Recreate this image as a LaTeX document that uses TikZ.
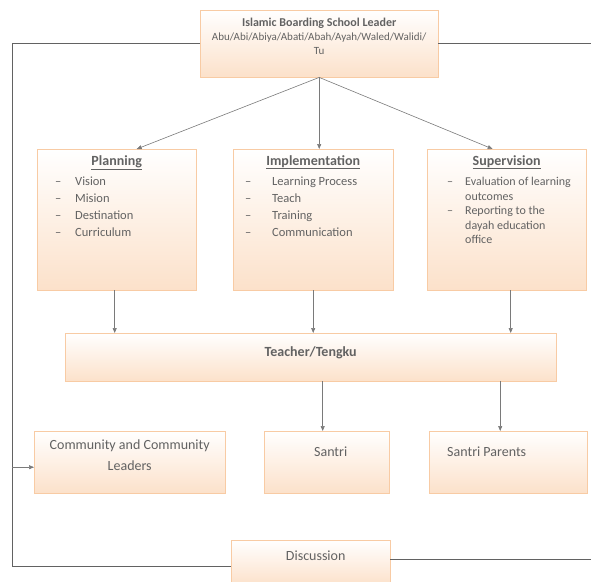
\documentclass[tikz,border=0pt]{standalone}
\usepackage{fontspec}
\setmainfont{Carlito}
\usetikzlibrary{positioning,arrows.meta,shadows}
\definecolor{boxline}{HTML}{F8CBA4}
\definecolor{boxfill}{HTML}{FCE1CA}
\definecolor{txtgray}{HTML}{626262}
\definecolor{linegray}{HTML}{7A7A7A}
\tikzset{
  stage/.style={draw=boxline, top color=white, bottom color=boxfill, anchor=north west,
    inner sep=0pt, drop shadow={shadow xshift=1.2pt, shadow yshift=-1.2pt, opacity=.18}},
  head/.style={inner sep=0pt, text=txtgray, font=\fontsize{14}{16}\selectfont\bfseries},
  items/.style={inner sep=0pt, text=txtgray, align=left, font=\fontsize{12.5}{17}\selectfont},
  label/.style={inner sep=0pt, text=txtgray, align=center, font=\fontsize{14}{21}\selectfont},
  flow/.style={draw=linegray, line width=0.6pt, -{Triangle[length=5pt,width=4pt]}},
  loop/.style={draw=txtgray, line width=0.5pt}
}
\newcommand{\dash}{\makebox[20pt][l]{--}}
\begin{document}
\begin{tikzpicture}[x=1pt, y=-1pt]
    \useasboundingbox (0,0) rectangle (591,581);
        \node[stage, minimum width=238pt, minimum height=67pt] (lead) at (200,10) {};
        \node[head, font=\fontsize{12}{14}\selectfont\bfseries, below=8pt of lead.north] (leadtitle) {Islamic Boarding School Leader};
        \node[items, align=center, font=\fontsize{11}{13.5}\selectfont, below=4pt of leadtitle] (leadnames) {Abu/Abi/Abiya/Abati/Abah/Ayah/Waled/Walidi/\\Tu};
        \node[stage, minimum width=159pt, minimum height=141pt] (plan) at (37,149) {};
        \node[head, below=6pt of plan.north] (plantitle) {\underline{Planning}};
        \node[items, below right=28pt and 18pt of plan.north west] (planlist) {\dash Vision\\\dash Mision\\\dash Destination\\\dash Curriculum};
        \node[stage, minimum width=160pt, minimum height=141pt] (impl) at (233,149) {};
        \node[head, below=6pt of impl.north] (impltitle) {\underline{Implementation}};
        \node[items, below right=28pt and 12pt of impl.north west] (impllist) {\makebox[27pt][l]{--}Learning Process\\\makebox[27pt][l]{--}Teach\\\makebox[27pt][l]{--}Training\\\makebox[27pt][l]{--}Communication};
        \node[stage, minimum width=159pt, minimum height=141pt] (sup) at (427,149) {};
        \node[head, below=6pt of sup.north] (suptitle) {\underline{Supervision}};
        \node[items, font=\fontsize{12}{14.5}\selectfont, below right=28pt and 20pt of sup.north west] (suplist) {\makebox[18pt][l]{--}Evaluation of learning\\\hspace*{18pt}outcomes\\\makebox[18pt][l]{--}Reporting to the\\\hspace*{18pt}dayah education\\\hspace*{18pt}office};
        \node[stage, minimum width=491pt, minimum height=48pt] (teach) at (65,333) {};
        \node[head, below=13pt of teach.north] (teachtxt) {Teacher/Tengku};
        \node[stage, minimum width=191pt, minimum height=62pt] (comm) at (34,431) {};
        \node[label, below=9pt of comm.north] (commtxt) {Community and Community\\Leaders};
        \node[stage, minimum width=125pt, minimum height=62pt] (santri) at (264,431) {};
        \node[label, below=16pt of santri.north, xshift=4pt] (santritxt) {Santri};
        \node[stage, minimum width=158pt, minimum height=62pt] (par) at (429,431) {};
        \node[label, below right=16pt and 18pt of par.north west] (partxt) {Santri Parents};
        \node[stage, minimum width=159pt, minimum height=45pt] (disc) at (231,540) {};
        \node[label, below=11pt of disc.north, xshift=5pt] (disctxt) {Discussion};
        \coordinate (lc) at (12,566);
        \coordinate (rc) at (591,43);
        \coordinate (rb) at (591,559);
        % from the leader
        \draw[flow] (lead.south) -- ([xshift=20pt]plan.north);
        \draw[flow] (lead.south) -- (lead.south |- impl.north);
        \draw[flow] (lead.south) -- ([xshift=-14pt]sup.north);
        % down to the teacher
        \draw[flow] ([xshift=-2pt]plan.south) -- ([xshift=-2pt]plan.south |- teach.north);
        \draw[flow] (impl.south) -- (impl.south |- teach.north);
        \draw[flow] ([xshift=4pt]sup.south) -- ([xshift=4pt]sup.south |- teach.north);
        \draw[flow] ([xshift=-4pt]santri.north |- teach.south) -- ([xshift=-4pt]santri.north);
        \draw[flow] ([xshift=-8pt]par.north |- teach.south) -- ([xshift=-8pt]par.north);
        % feedback loop
        \draw[loop] (lead.west) -| (lc) -- (lc -| disc.west);
        \draw[loop] (lead.east) -- (lead.east -| rc);
        \draw[loop] (disc.east |- rb) -- (rb);
        \draw[flow, line width=0.5pt] ([yshift=-5pt]lc |- comm.west) -- ([yshift=-5pt]comm.west);
\end{tikzpicture}
\end{document}
